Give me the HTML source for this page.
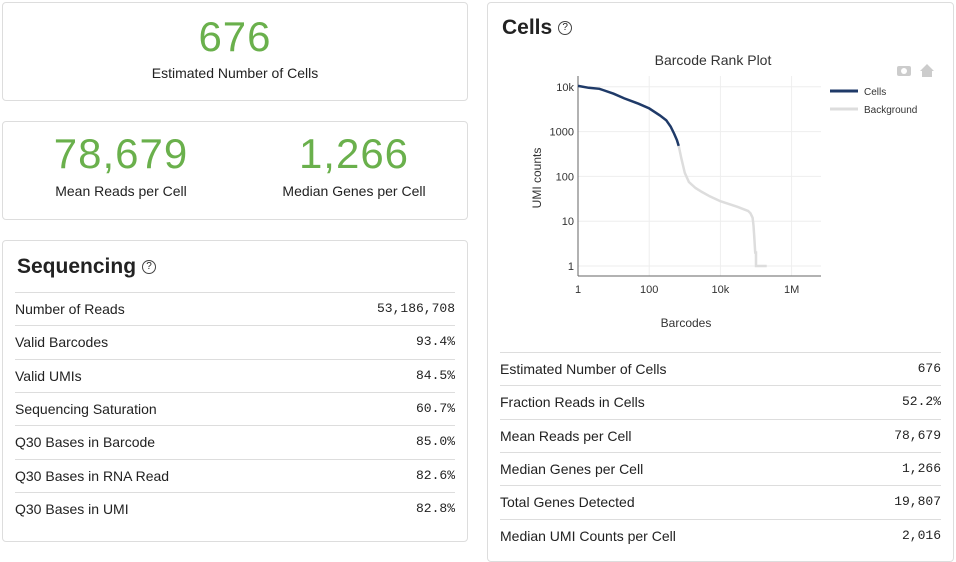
<!DOCTYPE html>
<html><head><meta charset="utf-8"><style>
body{margin:0;width:956px;height:553px;overflow:hidden;background:#fff;font-family:"Liberation Sans",sans-serif;color:#222;position:relative}
.card{position:absolute;border:1px solid #ddd;border-radius:4px;background:#fff;box-sizing:border-box}
.big{color:#6ab04c;font-size:42px;text-align:center;letter-spacing:1px}
.lab{font-size:14px;text-align:center;color:#222}
h2{margin:0;font-size:21px;font-weight:bold;position:absolute}
.q{display:inline-block;width:12px;height:12px;border:1.3px solid #444;border-radius:50%;font-size:10px;text-align:center;line-height:12px;font-weight:normal;vertical-align:middle;margin-left:6px}
.row{position:absolute;left:12px;right:12px;height:33px;border-top:1px solid #ddd;font-size:14px;line-height:32px}
.row span{position:absolute;right:0;font-family:"Liberation Mono",monospace;font-size:13px}
</style></head><body>
<div class="card" style="left:2px;top:2px;width:466px;height:99px">
<div class="big" style="margin-top:10px;height:48px">676</div>
<div class="lab" style="margin-top:4px">Estimated Number of Cells</div></div>
<div class="card" style="left:2px;top:121px;width:466px;height:99px">
<div style="position:absolute;left:0;width:236px;top:8px"><div class="big" style="height:48px">78,679</div><div class="lab" style="margin-top:5px">Mean Reads per Cell</div></div>
<div style="position:absolute;left:236px;width:230px;top:8px"><div class="big" style="height:48px">1,266</div><div class="lab" style="margin-top:5px">Median Genes per Cell</div></div></div>
<div class="card" style="left:2px;top:240px;width:466px;height:302px">
<h2 style="left:14px;top:14px">Sequencing<span class="q">?</span></h2>
<div id="seq"></div></div>
<div class="card" style="left:487px;top:2px;width:467px;height:560px">
<h2 style="left:14px;top:13px">Cells<span class="q">?</span></h2>
<svg id="plot" width="467" height="340" style="position:absolute;left:0;top:0" font-family="Liberation Sans,sans-serif"></svg>
<div id="cel"></div></div>
<script>
const seqLabels=["Number of Reads","Valid Barcodes","Valid UMIs","Sequencing Saturation","Q30 Bases in Barcode","Q30 Bases in RNA Read","Q30 Bases in UMI"];
const seqValues=["53,186,708","93.4%","84.5%","60.7%","85.0%","82.6%","82.8%"];
const cellLabels=["Estimated Number of Cells","Fraction Reads in Cells","Mean Reads per Cell","Median Genes per Cell","Total Genes Detected","Median UMI Counts per Cell"];
const cellValues=["676","52.2%","78,679","1,266","19,807","2,016"];
const cellsX=[1,2,4,5,10,20,50,100,200,300,400,500,600,676];
const cellsY=[10500,9500,9000,8500,7000,5500,4200,3300,2300,1800,1300,900,650,480];
const bgX=[676,800,1000,1300,2000,3000,5000,10000,30000,60000,70000,80000,85000,90000,95000,100000,100000,200000];
const bgY=[480,250,120,75,55,45,36,28,21,17,15,12,8,4,2,2,1,1];
const xTicks=[1,100,10000,1000000], xTickLabels=["1","100","10k","1M"];
const yTicks=[1,10,100,1000,10000], yTickLabels=["1","10","100","1000","10k"];
function rows(id,L,V,top){const c=document.getElementById(id);L.forEach((l,i)=>{const d=document.createElement('div');d.className='row';d.style.top=(top+i*33.3)+'px';


d.innerHTML=l+'<span>'+V[i]+'</span>';c.appendChild(d);});}
rows('seq',seqLabels,seqValues,51);
rows('cel',cellLabels,cellValues,349);
const ox=487,oy=2;
const X=v=>577-ox+Math.log10(v)*35.6, Y=v=>265-oy-Math.log10(v)*44.8;
const s=document.getElementById('plot');let h='';
h+='<text x="225" y="62" font-size="14" text-anchor="middle" fill="#333">Barcode Rank Plot</text>';
xTicks.forEach((t,i)=>{h+=`<line x1="${X(t)}" x2="${X(t)}" y1="73" y2="273" stroke="#eee"/><text x="${X(t)}" y="290" font-size="11" text-anchor="middle" fill="#333">${xTickLabels[i]}</text>`;});
yTicks.forEach((t,i)=>{h+=`<line x1="${X(1)}" x2="333" y1="${Y(t)}" y2="${Y(t)}" stroke="#eee"/><text x="${X(1)-4}" y="${Y(t)+4}" font-size="11" text-anchor="end" fill="#333">${yTickLabels[i]}</text>`;});
h+=`<line x1="${X(1)}" x2="${X(1)}" y1="73" y2="273" stroke="#666"/><line x1="${X(1)}" x2="333" y1="273" y2="273" stroke="#666"/>`;
const pth=(xs,ys)=>xs.map((x,i)=>(i?'L':'M')+X(x).toFixed(1)+','+Y(ys[i]).toFixed(1)).join('');
h+=`<path d="${pth(bgX,bgY)}" fill="none" stroke="#ddd" stroke-width="2.5"/>`;
h+=`<path d="${pth(cellsX,cellsY)}" fill="none" stroke="#1f3a68" stroke-width="2.5"/>`;
h+='<text x="198" y="324" font-size="12" text-anchor="middle" fill="#333">Barcodes</text><text transform="translate(53,175) rotate(-90)" font-size="12" text-anchor="middle" fill="#333">UMI counts</text>';
h+='<line x1="342" x2="370" y1="88" y2="88" stroke="#1f3a68" stroke-width="3"/><text x="376" y="92" font-size="10" fill="#333">Cells</text><line x1="342" x2="370" y1="106" y2="106" stroke="#ddd" stroke-width="3"/><text x="376" y="110" font-size="10" fill="#333">Background</text>';
h+='<rect x="409" y="63" width="14" height="10" rx="2" fill="#ccc"/><circle cx="416" cy="68" r="3" fill="#fff"/><path d="M432 68 L439 61 L446 68 L444 68 L444 74 L434 74 L434 68Z" fill="#ccc"/>';
s.innerHTML=h;
</script></body></html>
